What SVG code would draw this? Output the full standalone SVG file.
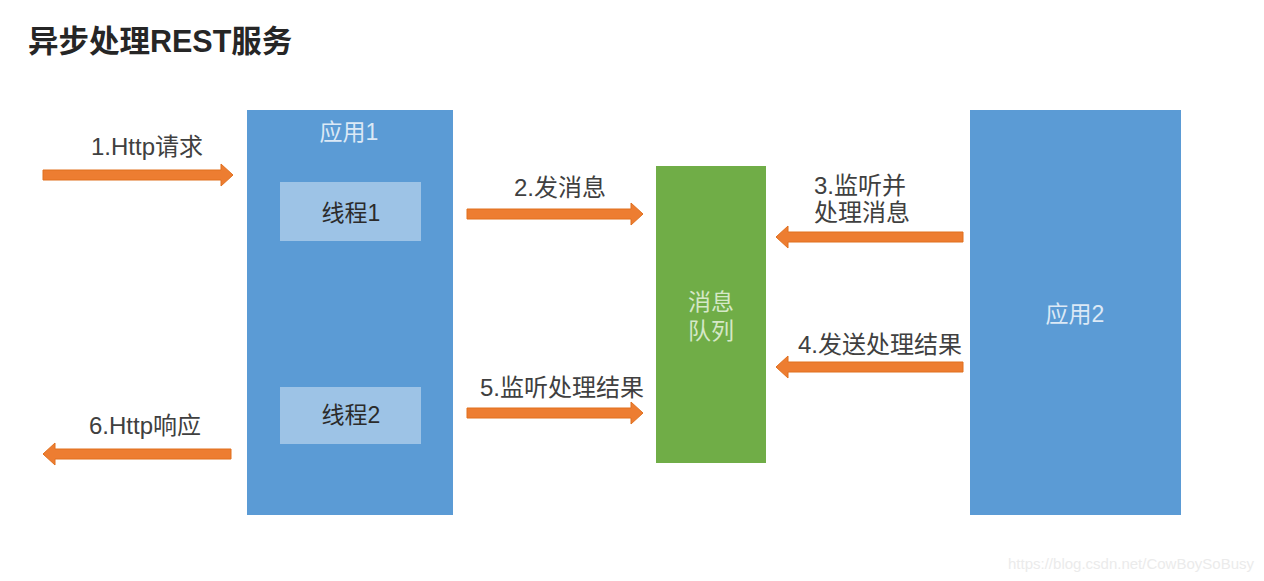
<svg xmlns="http://www.w3.org/2000/svg" width="1264" height="581" viewBox="0 0 1264 581">
<style>
text{font-family:"Liberation Sans","Noto Sans CJK SC",sans-serif;}
.title{font-size:30.5px;font-weight:bold;fill:#262626;}
.lbl{font-size:24px;fill:#404040;}
.app{fill:#5b9bd5;}
.thread{fill:#9dc3e6;}
.mq{fill:#70ad47;}
.apptxt{font-size:23px;fill:#dce9f6;text-anchor:middle;}
.thtxt{font-size:23px;fill:#2b2b2b;text-anchor:middle;}
.mqtxt{font-size:23px;fill:#d5e8c8;text-anchor:middle;}
.arrow{fill:#ed7d31;stroke:#e0701f;stroke-width:1;}
.wm{font-size:15px;fill:#ebebeb;}
</style>
<rect width="1264" height="581" fill="#ffffff"/>
<text class="title" x="28" y="52">异步处理REST服务</text>

<g id="app1">
<rect class="app" x="247" y="110" width="206" height="405"/>
<text class="apptxt" x="349" y="140">应用1</text>
</g>
<g id="thread1">
<rect class="thread" x="280" y="182" width="141" height="59"/>
<text class="thtxt" x="351" y="221">线程1</text>
</g>
<g id="thread2">
<rect class="thread" x="280" y="387" width="141" height="57"/>
<text class="thtxt" x="351" y="423">线程2</text>
</g>
<g id="mq">
<rect class="mq" x="656" y="166" width="110" height="297"/>
<text class="mqtxt" x="711" y="310">消息</text>
<text class="mqtxt" x="711" y="339">队列</text>
</g>
<g id="app2">
<rect class="app" x="970" y="110" width="211" height="405"/>
<text class="apptxt" x="1075" y="322">应用2</text>
</g>

<g id="connectors">
<polygon class="arrow" points="43,170 221,170 221,164 233,175 221,186 221,180 43,180"/>
<text class="lbl" x="147" y="155" text-anchor="middle">1.Http请求</text>
<polygon class="arrow" points="467,209 631,209 631,203 643,214 631,225 631,219 467,219"/>
<text class="lbl" x="560" y="196" text-anchor="middle">2.发消息</text>
<polygon class="arrow" points="963,232 788,232 788,226 776,237 788,248 788,242 963,242"/>
<text class="lbl" x="814" y="194">3.监听并</text>
<text class="lbl" x="814" y="221">处理消息</text>
<polygon class="arrow" points="963,362 788,362 788,356 776,367 788,378 788,372 963,372"/>
<text class="lbl" x="962" y="353" text-anchor="end">4.发送处理结果</text>
<polygon class="arrow" points="467,408 631,408 631,402 643,413 631,424 631,418 467,418"/>
<text class="lbl" x="562" y="396" text-anchor="middle">5.监听处理结果</text>
<polygon class="arrow" points="231,449 55,449 55,443 43,454 55,465 55,459 231,459"/>
<text class="lbl" x="145" y="434" text-anchor="middle">6.Http响应</text>
</g>

<text class="wm" x="1254" y="569" text-anchor="end">https://blog.csdn.net/CowBoySoBusy</text>
</svg>
